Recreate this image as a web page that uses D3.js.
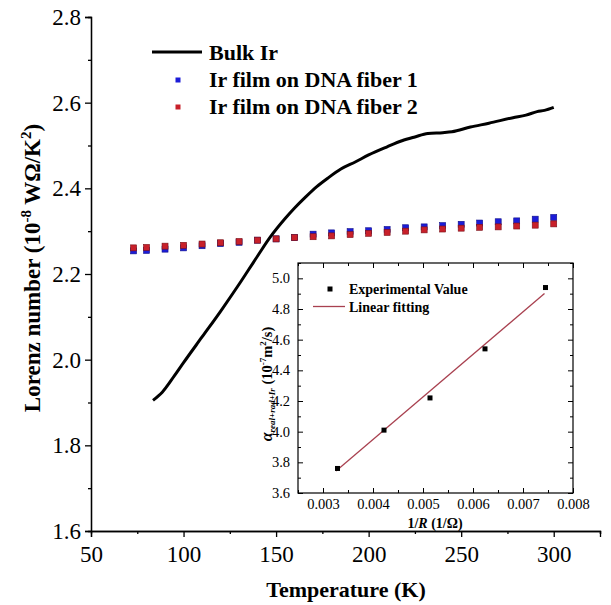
<!DOCTYPE html>
<html><head><meta charset="utf-8">
<script src="https://cdn.jsdelivr.net/npm/d3@7"></script>
<style>body{margin:0;background:#fff}svg{display:block}text{font-family:"Liberation Serif","Times New Roman",serif;fill:#000}</style>
</head><body><svg id="c" width="611" height="605"></svg>
<script>
// ---------- data ----------
const bulkT = [83.5, 88.5, 95, 100, 110, 120, 130, 140, 147, 155, 160, 166, 172, 178, 185, 193, 200, 210, 218, 225, 232, 240, 245, 255, 265, 278, 285, 291, 295, 300];
const bulkL = [1.905, 1.924, 1.962, 1.993, 2.053, 2.113, 2.176, 2.242, 2.287, 2.330, 2.354, 2.380, 2.404, 2.424, 2.445, 2.462, 2.478, 2.497, 2.511, 2.520, 2.528, 2.530, 2.532, 2.543, 2.552, 2.565, 2.571, 2.579, 2.582, 2.589];
const filmT = [73, 80, 90, 100, 110, 120, 130, 140, 150, 160, 170, 180, 190, 200, 210, 220, 230, 240, 250, 260, 270, 280, 290, 300];
const fiber1 = [2.254, 2.255, 2.258, 2.261, 2.266, 2.271, 2.274, 2.279, 2.282, 2.285, 2.293, 2.296, 2.299, 2.301, 2.304, 2.308, 2.310, 2.313, 2.316, 2.319, 2.322, 2.324, 2.328, 2.332];
const fiber2 = [2.261, 2.262, 2.265, 2.267, 2.270, 2.273, 2.276, 2.279, 2.282, 2.285, 2.287, 2.289, 2.292, 2.295, 2.297, 2.300, 2.303, 2.305, 2.307, 2.309, 2.310, 2.312, 2.314, 2.317];
const xTicks = [50, 100, 150, 200, 250, 300];
const xMinor = [75, 125, 175, 225, 275, 325];
const yTicks = [1.6, 1.8, 2.0, 2.2, 2.4, 2.6, 2.8];
const yMinor = [1.7, 1.9, 2.1, 2.3, 2.5, 2.7];
const legendLabels = ["Bulk Ir", "Ir film on DNA fiber 1", "Ir film on DNA fiber 2"];

const invR = [0.00329, 0.00422, 0.00514, 0.00624, 0.00745];
const alpha = [3.76, 4.01, 4.22, 4.54, 4.94];
const fitX = [0.00326, 0.00743];
const fitY = [3.744, 4.901];
const inXTicks = [0.003, 0.004, 0.005, 0.006, 0.007, 0.008];
const inXMinor = [0.0025, 0.0035, 0.0045, 0.0055, 0.0065, 0.0075];
const inYTicks = [3.6, 3.8, 4.0, 4.2, 4.4, 4.6, 4.8, 5.0];
const inYMinor = [3.7, 3.9, 4.1, 4.3, 4.5, 4.7, 4.9, 5.1];
const insetLegend = ["Experimental Value", "Linear fitting"];

// ---------- main chart ----------
const svg = d3.select("#c");
const x = d3.scaleLinear().domain([50, 325]).range([91, 600]);
const y = d3.scaleLinear().domain([1.6, 2.8]).range([531, 17]);
const BLUE = "#1c1cd8", RED = "#c8202a";

const gx = svg.append("g").attr("transform", `translate(0,${y(1.6)})`);
gx.call(d3.axisBottom(x).tickValues(xTicks).tickSize(6).tickPadding(9).tickFormat(d3.format("d")));
gx.append("g").call(d3.axisBottom(x).tickValues(xMinor).tickSize(3).tickFormat(""));
const gy = svg.append("g").attr("transform", `translate(${x(50)},0)`);
gy.call(d3.axisLeft(y).tickValues(yTicks).tickSize(6).tickPadding(4).tickFormat(d3.format(".1f")));
gy.append("g").call(d3.axisLeft(y).tickValues(yMinor).tickSize(3).tickFormat(""));
svg.selectAll(".domain").attr("stroke", "#000").attr("stroke-width", 1.3);
svg.selectAll(".tick line").attr("stroke", "#000").attr("stroke-width", 1.3);
gx.selectAll(".tick text").style("font-size", "23px").style("font-family", '"Liberation Serif",serif');
gy.selectAll(".tick text").style("font-size", "23px").style("font-family", '"Liberation Serif",serif');

// film markers
const ms = 6;
svg.append("g").selectAll("rect").data(filmT.map((t, i) => [t, fiber1[i]])).join("rect")
  .attr("x", d => x(d[0]) - ms / 2).attr("y", d => y(d[1]) - ms / 2).attr("width", ms).attr("height", ms)
  .attr("fill", BLUE).attr("stroke", "#10108a").attr("stroke-width", 0.6);
svg.append("g").selectAll("rect").data(filmT.map((t, i) => [t, fiber2[i]])).join("rect")
  .attr("x", d => x(d[0]) - ms / 2).attr("y", d => y(d[1]) - ms / 2).attr("width", ms).attr("height", ms)
  .attr("fill", RED).attr("stroke", "#7a1018").attr("stroke-width", 0.6);

// bulk curve
svg.append("path").datum(bulkT.map((t, i) => [t, bulkL[i]]))
  .attr("d", d3.line().x(d => x(d[0])).y(d => y(d[1])).curve(d3.curveMonotoneX))
  .attr("fill", "none").attr("stroke", "#000").attr("stroke-width", 3);

// axis titles
svg.append("text").attr("x", 346).attr("y", 597).attr("text-anchor", "middle")
  .style("font-size", "22px").style("font-weight", "bold").text("Temperature (K)");
const yt = svg.append("text").attr("transform", "translate(40,268) rotate(-90)").attr("text-anchor", "middle")
  .style("font-size", "23px").style("font-weight", "bold");
yt.append("tspan").text("Lorenz number (10");
yt.append("tspan").attr("dy", -9).style("font-size", "15px").text("-8");
yt.append("tspan").attr("dy", 9).text(" WΩ/K");
yt.append("tspan").attr("dy", -9).style("font-size", "15px").text("2");
yt.append("tspan").attr("dy", 9).text(")");

// legend
const lg = svg.append("g");
lg.append("line").attr("x1", 152).attr("x2", 202).attr("y1", 52).attr("y2", 52).attr("stroke", "#000").attr("stroke-width", 3);
lg.append("rect").attr("x", 178 - 2.5).attr("y", 80 - 2.5).attr("width", 5).attr("height", 5).attr("fill", BLUE);
lg.append("rect").attr("x", 178 - 2.5).attr("y", 107 - 2.5).attr("width", 5).attr("height", 5).attr("fill", RED);
[59.5, 87, 113.5].forEach((yy, i) => {
  lg.append("text").attr("x", 209).attr("y", yy).style("font-size", "22px").style("font-weight", "bold").text(legendLabels[i]);
});

// ---------- inset ----------
const ix = d3.scaleLinear().domain([0.0025, 0.008]).range([298, 573]);
const iy = d3.scaleLinear().domain([3.6, 5.1]).range([493, 263]);
const ins = svg.append("g");
ins.append("rect").attr("x", 298).attr("y", 263).attr("width", 275).attr("height", 230).attr("fill", "#fff").attr("stroke", "none");
function tickStyle(g) {
  g.select(".domain").remove();
  g.selectAll(".tick line").attr("stroke", "#000").attr("stroke-width", 1);
  g.selectAll(".tick text").style("font-size", "14.5px").style("font-family", '"Liberation Serif",serif');
}
const ib = ins.append("g").attr("transform", "translate(0,493)");
ib.call(d3.axisBottom(ix).tickValues(inXTicks).tickSize(-5).tickPadding(6).tickFormat(d3.format(".3f"))); tickStyle(ib);
const ib2 = ins.append("g").attr("transform", "translate(0,493)");
ib2.call(d3.axisBottom(ix).tickValues(inXMinor).tickSize(-3).tickFormat("")); tickStyle(ib2);
const itp = ins.append("g").attr("transform", "translate(0,263)");
itp.call(d3.axisTop(ix).tickValues(inXTicks).tickSize(-5).tickFormat("")); tickStyle(itp);
const itp2 = ins.append("g").attr("transform", "translate(0,263)");
itp2.call(d3.axisTop(ix).tickValues(inXMinor).tickSize(-3).tickFormat("")); tickStyle(itp2);
const il = ins.append("g").attr("transform", "translate(298,0)");
il.call(d3.axisLeft(iy).tickValues(inYTicks).tickSize(-5).tickPadding(8).tickFormat(d3.format(".1f"))); tickStyle(il);
const il2 = ins.append("g").attr("transform", "translate(298,0)");
il2.call(d3.axisLeft(iy).tickValues(inYMinor).tickSize(-3).tickFormat("")); tickStyle(il2);
const ir = ins.append("g").attr("transform", "translate(573,0)");
ir.call(d3.axisRight(iy).tickValues(inYTicks).tickSize(-5).tickFormat("")); tickStyle(ir);
const ir2 = ins.append("g").attr("transform", "translate(573,0)");
ir2.call(d3.axisRight(iy).tickValues(inYMinor).tickSize(-3).tickFormat("")); tickStyle(ir2);
ins.append("rect").attr("x", 298).attr("y", 263).attr("width", 275).attr("height", 230).attr("fill", "none").attr("stroke", "#000").attr("stroke-width", 1.2);

const FIT = "#a8404f";
ins.append("path").datum(fitX.map((v, i) => [v, fitY[i]]))
  .attr("d", d3.line().x(d => ix(d[0])).y(d => iy(d[1])))
  .attr("fill", "none").attr("stroke", FIT).attr("stroke-width", 1.3);
ins.append("g").selectAll("rect").data(invR.map((v, i) => [v, alpha[i]])).join("rect")
  .attr("x", d => ix(d[0]) - 2.5).attr("y", d => iy(d[1]) - 2.5).attr("width", 5).attr("height", 5).attr("fill", "#000");

// inset legend
ins.append("rect").attr("x", 330 - 2.5).attr("y", 289 - 2.5).attr("width", 5).attr("height", 5).attr("fill", "#000");
ins.append("text").attr("x", 349).attr("y", 293.5).style("font-size", "14px").style("font-weight", "bold").text(insetLegend[0]);
ins.append("line").attr("x1", 313).attr("x2", 345).attr("y1", 306.5).attr("y2", 306.5).attr("stroke", FIT).attr("stroke-width", 1.3);
ins.append("text").attr("x", 349).attr("y", 311.5).style("font-size", "14px").style("font-weight", "bold").text(insetLegend[1]);

// inset axis titles
const ixt = ins.append("text").attr("x", 435).attr("y", 528).attr("text-anchor", "middle").style("font-size", "14px").style("font-weight", "bold");
ixt.append("tspan").text("1/");
ixt.append("tspan").style("font-style", "italic").text("R");
ixt.append("tspan").text(" (1/Ω)");
const iyt = ins.append("text").attr("transform", "translate(272,384) rotate(-90)").attr("text-anchor", "middle").style("font-size", "14.5px").style("font-weight", "bold");
iyt.append("tspan").style("font-style", "italic").style("font-size", "16px").text("α");
iyt.append("tspan").attr("dy", 3).style("font-style", "italic").style("font-size", "9px").text("real+rad+Ir");
iyt.append("tspan").attr("dy", -3).text(" (10");
iyt.append("tspan").attr("dy", -6).style("font-size", "9px").text("-7");
iyt.append("tspan").attr("dy", 6).text("m");
iyt.append("tspan").attr("dy", -6).style("font-size", "9px").text("2");
iyt.append("tspan").attr("dy", 6).text("/s)");
</script></body></html>
